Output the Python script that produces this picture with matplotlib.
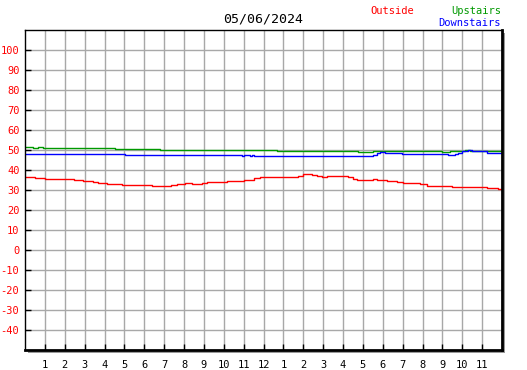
import matplotlib
matplotlib.use("Agg")
import matplotlib.pyplot as plt
from matplotlib.patches import Rectangle

title = "05/06/2024"
x_tick_hours = list(range(1, 24))
x_tick_labels = [str(h) for h in range(1, 13)] + [str(h) for h in range(1, 12)]
y_ticks = list(range(-40, 101, 10))

outside_h = [0.0, 0.5, 1.0, 2.45, 2.9, 3.4, 3.65, 4.15, 4.9, 6.4, 7.35, 7.65, 8.05, 8.4, 8.9, 9.15,
             10.15, 11.0, 11.5, 11.82, 12.0, 12.33, 12.58, 12.75, 13.17, 13.75, 14.0, 14.42, 14.68,
             14.93, 15.18, 15.5, 16.0, 16.27, 16.52, 16.69, 17.5, 17.69, 18.2, 18.7, 19.03, 19.2,
             19.87, 20.21, 21.47, 23.23, 23.81, 24.0]
outside_v = [36.5, 35.8, 35.5, 34.8, 34.3, 33.8, 33.3, 33.0, 32.5, 32.0, 32.5, 33.2, 33.7, 33.2, 33.5, 34.0,
             34.5, 35.0, 35.8, 36.6, 36.3, 36.6, 36.3, 36.6, 36.3, 37.2, 38.0, 37.3, 36.8,
             36.3, 36.8, 37.0, 36.8, 36.3, 35.6, 35.0, 35.5, 35.0, 34.5, 34.0, 33.5, 33.3,
             33.0, 32.2, 31.5, 31.0, 30.5, 30.5]

upstairs_h = [0.0, 0.42, 0.67, 0.92, 3.35, 3.6, 4.0, 4.53, 6.62, 6.8, 10.65, 10.9, 11.2, 11.7, 12.0,
              12.2, 12.66, 16.77, 17.53, 20.96, 21.4, 21.9, 22.14, 22.4, 24.0]
upstairs_v = [51.6, 51.2, 51.6, 51.2, 51.0, 50.8, 51.0, 50.5, 50.3, 50.0, 49.8, 50.0, 49.8, 50.0, 49.8,
              50.0, 49.7, 49.2, 49.7, 49.2, 49.7, 49.4, 50.0, 49.7, 49.7]

downstairs_h = [0.0, 5.03, 10.9, 11.0, 11.3, 11.4, 11.5, 17.53, 17.7, 17.86, 18.11, 18.95, 21.3,
                21.64, 21.8, 21.97, 22.3, 22.47, 23.23, 24.0]
downstairs_v = [48.0, 47.5, 47.1, 47.5, 47.1, 47.5, 47.1, 47.5, 48.3, 49.0, 48.5, 48.0, 47.5,
                48.0, 48.5, 49.3, 49.8, 49.3, 48.5, 48.5]

W, H = 527, 370
fig = plt.figure(figsize=(W / 100, H / 100), dpi=100)
fig.patch.set_facecolor("white")
L, R, T, B = 25, 502, 30, 350
ax = fig.add_axes([L / W, 1 - B / H, (R - L) / W, (B - T) / H])
ax.set_zorder(2)

# shadow
fig.patches.append(Rectangle(((L + 3) / W, 1 - (B + 3) / H), (R - L) / W, (B - T) / H,
                             transform=fig.transFigure, facecolor="#999999", edgecolor="none", zorder=-1))
ax.set_facecolor("white")

mono = "DejaVu Sans Mono"
ax.plot(outside_h, outside_v, drawstyle="steps-post", color="#ff0000", lw=1.0, zorder=3)
ax.plot(upstairs_h, upstairs_v, drawstyle="steps-post", color="#009900", lw=1.0, zorder=3)
ax.plot(downstairs_h, downstairs_v, drawstyle="steps-post", color="#0000ff", lw=1.0, zorder=3)

ax.set_xlim(0, 24)
ax.set_ylim(-50, 110)
ax.set_xticks(x_tick_hours)
ax.set_xticklabels(x_tick_labels, fontfamily=mono, fontsize=7.5, color="black")
ax.set_yticks(y_ticks)
ax.set_yticklabels([str(v) for v in y_ticks], fontfamily=mono, fontsize=7.5, color="#ff0000")
ax.grid(True, which="major", color="#a8a8a8", lw=1.0)
ax.tick_params(axis="both", which="major", direction="in", length=4, width=1, color="black")
ax.tick_params(axis="x", pad=7)
ax.tick_params(axis="y", pad=4)
ax.set_axisbelow(True)

for s in ["left", "top"]:
    ax.spines[s].set_linewidth(1.0)
for s in ["right", "bottom"]:
    ax.spines[s].set_linewidth(2.0)
for s in ax.spines.values():
    s.set_color("black")
    s.set_zorder(4)

fig.text(263 / W, 1 - 19 / H, title, ha="center", va="center", fontfamily=mono, fontsize=9.5, color="black")
fig.text(370 / W, 1 - 11 / H, "Outside", ha="left", va="center", fontfamily=mono, fontsize=7.5, color="#ff0000")
fig.text(501 / W, 1 - 11 / H, "Upstairs", ha="right", va="center", fontfamily=mono, fontsize=7.5, color="#009900")
fig.text(501 / W, 1 - 23 / H, "Downstairs", ha="right", va="center", fontfamily=mono, fontsize=7.5, color="#0000ff")

fig.savefig("out.png", dpi=100, facecolor="white")
